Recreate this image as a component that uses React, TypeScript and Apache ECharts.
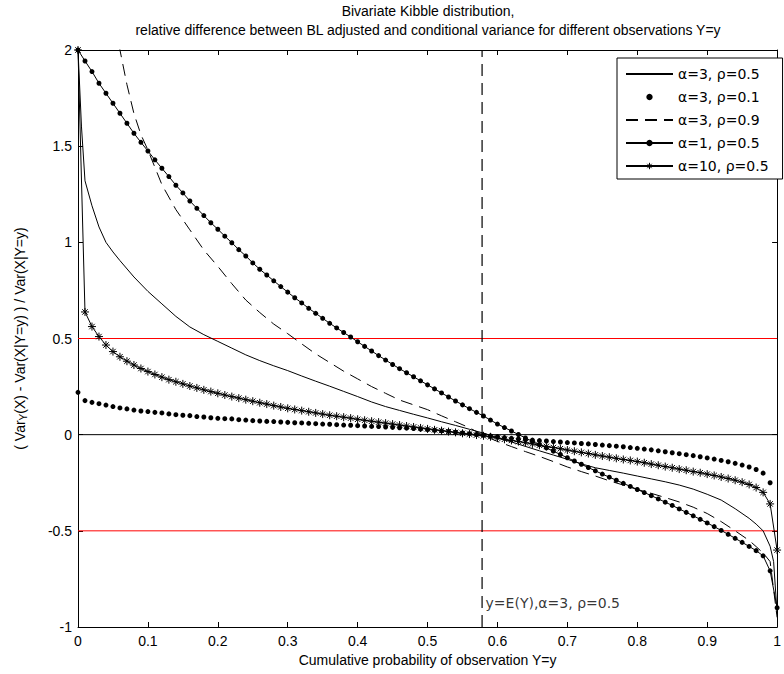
import React, { useEffect, useRef } from "react";
import * as echarts from "echarts";

// ---------- data ----------
// Regular probability grid (step 0.01) used by the marker series
const probGrid: number[] = Array.from({ length: 101 }, (_, i) => i / 100);

// alpha=1, rho=0.5 : line + dots, values at probGrid
const alpha1Rho05: number[] = [
  2.0, 1.943, 1.888, 1.827, 1.775, 1.723, 1.671, 1.619, 1.567, 1.52,
  1.475, 1.429, 1.385, 1.342, 1.297, 1.257, 1.215, 1.177, 1.139, 1.102,
  1.068, 1.032, 0.998, 0.962, 0.929, 0.893, 0.86, 0.83, 0.8, 0.77,
  0.741, 0.712, 0.685, 0.657, 0.631, 0.605, 0.579, 0.555, 0.531, 0.508,
  0.483, 0.459, 0.435, 0.411, 0.388, 0.365, 0.343, 0.322, 0.301, 0.28,
  0.259, 0.238, 0.217, 0.196, 0.175, 0.155, 0.135, 0.116, 0.097, 0.076,
  0.055, 0.037, 0.019, 0.001, -0.017, -0.035, -0.052, -0.069, -0.086, -0.103,
  -0.12, -0.137, -0.154, -0.171, -0.188, -0.205, -0.221, -0.237, -0.253, -0.269,
  -0.285, -0.301, -0.317, -0.334, -0.351, -0.368, -0.386, -0.404, -0.422, -0.44,
  -0.459, -0.478, -0.498, -0.518, -0.539, -0.56, -0.581, -0.603, -0.63, -0.708,
  -0.9,
];

// alpha=3, rho=0.1 : dots only, values at probGrid (0 .. 0.99)
const alpha3Rho01: number[] = [
  0.22, 0.177, 0.168, 0.161, 0.154, 0.146, 0.139, 0.134, 0.128, 0.123,
  0.12, 0.116, 0.113, 0.108, 0.104, 0.101, 0.099, 0.094, 0.092, 0.088,
  0.085, 0.083, 0.082, 0.078, 0.076, 0.073, 0.071, 0.069, 0.068, 0.066,
  0.064, 0.062, 0.061, 0.059, 0.057, 0.055, 0.054, 0.052, 0.05, 0.049,
  0.047, 0.045, 0.043, 0.042, 0.04, 0.038, 0.036, 0.034, 0.032, 0.029,
  0.026, 0.023, 0.02, 0.017, 0.013, 0.009, 0.005, 0.001, -0.003, -0.007,
  -0.011, -0.015, -0.019, -0.022, -0.025, -0.028, -0.031, -0.033, -0.036, -0.038,
  -0.041, -0.043, -0.046, -0.048, -0.051, -0.054, -0.057, -0.06, -0.063, -0.067,
  -0.071, -0.075, -0.079, -0.084, -0.089, -0.094, -0.099, -0.104, -0.109, -0.115,
  -0.121, -0.127, -0.134, -0.141, -0.149, -0.158, -0.168, -0.181, -0.2, -0.25,
];

// alpha=10, rho=0.5 : line + asterisks, values at probGrid
const alpha10Rho05: number[] = [
  2.0, 0.638, 0.562, 0.51, 0.466, 0.432, 0.405, 0.382, 0.362, 0.344,
  0.328, 0.313, 0.299, 0.286, 0.275, 0.264, 0.253, 0.243, 0.233, 0.224,
  0.215, 0.206, 0.198, 0.19, 0.182, 0.174, 0.166, 0.159, 0.151, 0.144,
  0.137, 0.131, 0.125, 0.119, 0.113, 0.107, 0.101, 0.096, 0.091, 0.086,
  0.08, 0.075, 0.07, 0.065, 0.06, 0.055, 0.05, 0.045, 0.04, 0.035,
  0.03, 0.025, 0.021, 0.016, 0.012, 0.007, 0.003, -0.002, -0.006, -0.011,
  -0.018, -0.024, -0.03, -0.036, -0.042, -0.048, -0.055, -0.061, -0.067, -0.073,
  -0.08, -0.086, -0.092, -0.098, -0.105, -0.111, -0.117, -0.123, -0.129, -0.134,
  -0.14, -0.146, -0.153, -0.159, -0.166, -0.172, -0.179, -0.185, -0.192, -0.198,
  -0.205, -0.212, -0.22, -0.228, -0.237, -0.247, -0.259, -0.275, -0.3, -0.36,
  -0.6,
];

// alpha=3, rho=0.5 : solid line
const alpha3Rho05X: number[] = [
  0, 0.005, 0.01, 0.02, 0.03, 0.04, 0.05, 0.06, 0.08, 0.1, 0.12, 0.14, 0.16, 0.18, 0.2,
  0.22, 0.24, 0.26, 0.28, 0.3, 0.32, 0.34, 0.36, 0.38, 0.4, 0.42, 0.44, 0.46, 0.48, 0.5,
  0.52, 0.54, 0.56, 0.58, 0.6, 0.62, 0.64, 0.66, 0.68, 0.7, 0.72, 0.74, 0.76, 0.78, 0.8,
  0.82, 0.84, 0.86, 0.88, 0.9, 0.92, 0.94, 0.96, 0.97, 0.98, 0.99, 0.995, 1.0,
];
const alpha3Rho05Y: number[] = [
  2.0, 1.6, 1.32, 1.19, 1.08, 1.0, 0.95, 0.905, 0.82, 0.745, 0.68, 0.615, 0.56, 0.52, 0.485,
  0.45, 0.415, 0.385, 0.358, 0.333, 0.305, 0.278, 0.252, 0.225, 0.198, 0.17, 0.146, 0.126, 0.106, 0.087,
  0.067, 0.048, 0.028, 0.008, -0.015, -0.038, -0.061, -0.084, -0.106, -0.128, -0.152, -0.172, -0.186, -0.2, -0.215,
  -0.23, -0.245, -0.262, -0.283, -0.31, -0.34, -0.385, -0.435, -0.465, -0.5, -0.58, -0.66, -0.93,
];

// alpha=3, rho=0.9 : dashed line
const alpha3Rho09X: number[] = [
  0.02, 0.03, 0.04, 0.05, 0.06, 0.07, 0.08, 0.09, 0.1, 0.12, 0.14, 0.16, 0.18, 0.2,
  0.22, 0.24, 0.26, 0.28, 0.3, 0.32, 0.34, 0.36, 0.38, 0.4, 0.42, 0.44, 0.46, 0.48, 0.5,
  0.52, 0.54, 0.56, 0.58, 0.6, 0.62, 0.64, 0.66, 0.68, 0.7, 0.72, 0.74, 0.76, 0.78, 0.8,
  0.82, 0.84, 0.86, 0.88, 0.9, 0.92, 0.94, 0.96, 0.97, 0.98, 0.99, 1.0,
];
const alpha3Rho09Y: number[] = [
  3.3, 2.85, 2.5, 2.22, 2.0, 1.82, 1.67, 1.56, 1.48, 1.3, 1.17, 1.065, 0.96, 0.875,
  0.785, 0.7, 0.635, 0.575, 0.525, 0.472, 0.42, 0.375, 0.33, 0.29, 0.25, 0.215, 0.18, 0.155, 0.13,
  0.098, 0.067, 0.036, -0.005, -0.035, -0.062, -0.088, -0.113, -0.14, -0.168, -0.192, -0.215, -0.24, -0.262, -0.285,
  -0.305, -0.327, -0.35, -0.377, -0.41, -0.452, -0.5, -0.55, -0.582, -0.615, -0.66, -0.95,
];

const seriesNames = ["α=3, ρ=0.5", "α=3, ρ=0.1", "α=3, ρ=0.9", "α=1, ρ=0.5", "α=10, ρ=0.5"];
const thresholdLevels = [0.5, -0.5];
const meanY = 0.578; // E(Y) for alpha=3, rho=0.5 (as cumulative probability)
const meanLabel = "y=E(Y),α=3, ρ=0.5";
const annotationLevel = -0.875;
const xTicks = { min: 0, max: 1, step: 0.1 };
const yTicks = { min: -1, max: 2, step: 0.5 };

const titleLines = [
  "Bivariate Kibble distribution,",
  "relative difference between BL adjusted and conditional variance for different observations Y=y",
];
const xTitle = "Cumulative probability of observation Y=y";
const yTitle = "( Var{sub|Y}(X) - Var(X|Y=y) ) / Var(X|Y=y)";

// ---------- styling ----------
const FONT = "Liberation Sans, Arial, sans-serif";
const TEXFONT = "DejaVu Sans, sans-serif";
const ASTERISK = "path://M5 0 L5 10 M0 5 L10 5 M1.6 1.6 L8.4 8.4 M8.4 1.6 L1.6 8.4";

const pairs = (xs: number[], ys: number[]) => ys.map((y, i) => [xs[i], y]);

function buildOption(): any {
  const axisCommon = {
    type: "value",
    splitLine: { show: false },
    axisLine: { show: true, onZero: false, lineStyle: { color: "#000", width: 1 } },
    axisTick: { show: true, inside: true, length: 5, lineStyle: { color: "#000" } },
  };
  return {
    animation: false,
    backgroundColor: "#fff",
    grid: { left: 78, right: 5, top: 50, bottom: 47 },
    xAxis: [
      {
        ...axisCommon,
        position: "bottom",
        min: xTicks.min,
        max: xTicks.max,
        interval: xTicks.step,
        axisLabel: { color: "#000", fontSize: 14, fontFamily: FONT, margin: 7 },
        name: xTitle,
        nameLocation: "middle",
        nameGap: 25,
        nameTextStyle: { color: "#000", fontSize: 14, fontFamily: FONT },
      },
      {
        ...axisCommon,
        position: "top",
        min: xTicks.min,
        max: xTicks.max,
        interval: xTicks.step,
        axisLabel: { show: false },
      },
    ],
    yAxis: [
      {
        ...axisCommon,
        position: "left",
        min: yTicks.min,
        max: yTicks.max,
        interval: yTicks.step,
        axisLabel: { color: "#000", fontSize: 14, fontFamily: FONT, margin: 6 },
        name: yTitle,
        nameLocation: "middle",
        nameRotate: 90,
        nameGap: 50,
        nameTextStyle: {
          color: "#000",
          fontSize: 14,
          fontFamily: FONT,
          rich: {
            sub: { fontSize: 10, fontFamily: FONT, color: "#000", verticalAlign: "bottom", padding: [6, 0, 0, 0] },
          },
        },
      },
      {
        ...axisCommon,
        position: "right",
        min: yTicks.min,
        max: yTicks.max,
        interval: yTicks.step,
        axisLabel: { show: false },
      },
    ],
    legend: {
      data: [
        { name: seriesNames[0], itemStyle: { opacity: 0 } },
        { name: seriesNames[1] },
        { name: seriesNames[2], itemStyle: { opacity: 0 } },
        { name: seriesNames[3] },
        { name: seriesNames[4], itemStyle: { color: "#000", borderColor: "#000", borderWidth: 1 } },
      ],
      orient: "vertical",
      left: 617,
      top: 58,
      itemWidth: 47,
      itemHeight: 8,
      itemGap: 9,
      padding: [9, 14, 6, 8],
      backgroundColor: "#fff",
      borderColor: "#000",
      borderWidth: 1,
      borderRadius: 0,
      textStyle: { color: "#000", fontSize: 14, fontFamily: TEXFONT },
      selectedMode: false,
    },
    graphic: titleLines.map((t, i) => ({
      type: "text",
      x: 428,
      y: 11 + i * 19,
      style: {
        text: t,
        fill: "#000",
        font: `14px ${FONT}`,
        align: "center",
        textAlign: "center",
        verticalAlign: "middle",
        textVerticalAlign: "middle",
      },
    })),
    series: [
      // reference lines
      ...thresholdLevels.map((lv) => ({
        type: "line",
        data: [
          [xTicks.min, lv],
          [xTicks.max, lv],
        ],
        symbol: "none",
        lineStyle: { color: "#ff0000", width: 1 },
        silent: true,
        z: 1,
      })),
      {
        type: "line",
        data: [
          [xTicks.min, 0],
          [xTicks.max, 0],
        ],
        symbol: "none",
        lineStyle: { color: "#000", width: 1 },
        silent: true,
        z: 1,
      },
      {
        type: "line",
        data: [
          [meanY, yTicks.min],
          [meanY, yTicks.max],
        ],
        symbol: "none",
        lineStyle: { color: "#000", width: 1.2, type: [12, 7] },
        silent: true,
        z: 1,
      },
      {
        type: "scatter",
        data: [[meanY, annotationLevel]],
        symbolSize: 1,
        itemStyle: { color: "rgba(0,0,0,0)" },
        label: {
          show: true,
          position: "right",
          distance: 3,
          formatter: meanLabel,
          color: "#000",
          fontSize: 14,
          fontFamily: TEXFONT,
        },
        silent: true,
      },
      // data series
      {
        name: seriesNames[0],
        type: "line",
        data: pairs(alpha3Rho05X, alpha3Rho05Y),
        symbol: "none",
        lineStyle: { color: "#000", width: 1 },
        itemStyle: { color: "#000" },
        z: 3,
      },
      {
        name: seriesNames[1],
        type: "line",
        data: pairs(probGrid, alpha3Rho01),
        symbol: "circle",
        symbolSize: 5,
        showSymbol: true,
        showAllSymbol: true,
        lineStyle: { opacity: 0, width: 0 },
        itemStyle: { color: "#000", borderWidth: 0 },
        z: 3,
      },
      {
        name: seriesNames[2],
        type: "line",
        data: pairs(alpha3Rho09X, alpha3Rho09Y),
        symbol: "none",
        lineStyle: { color: "#000", width: 1, type: [12, 7] },
        itemStyle: { color: "#000" },
        z: 3,
      },
      {
        name: seriesNames[3],
        type: "line",
        data: pairs(probGrid, alpha1Rho05),
        symbol: "circle",
        symbolSize: 5,
        showSymbol: true,
        showAllSymbol: true,
        lineStyle: { color: "#000", width: 1 },
        itemStyle: { color: "#000", borderWidth: 0 },
        z: 3,
      },
      {
        name: seriesNames[4],
        type: "line",
        data: pairs(probGrid, alpha10Rho05),
        symbol: ASTERISK,
        symbolSize: 8,
        showSymbol: true,
        showAllSymbol: true,
        lineStyle: { color: "#000", width: 1 },
        itemStyle: { color: "#000", borderColor: "#000", borderWidth: 1 },
        z: 3,
      },
    ],
  };
}

export default function App() {
  const ref = useRef<HTMLDivElement>(null);
  useEffect(() => {
    document.body.style.margin = "0";
    const chart = echarts.init(ref.current as HTMLDivElement, null, { renderer: "svg" });
    chart.setOption(buildOption());
    return () => chart.dispose();
  }, []);
  return <div ref={ref} style={{ width: 784, height: 674, overflow: "hidden" }} />;
}
